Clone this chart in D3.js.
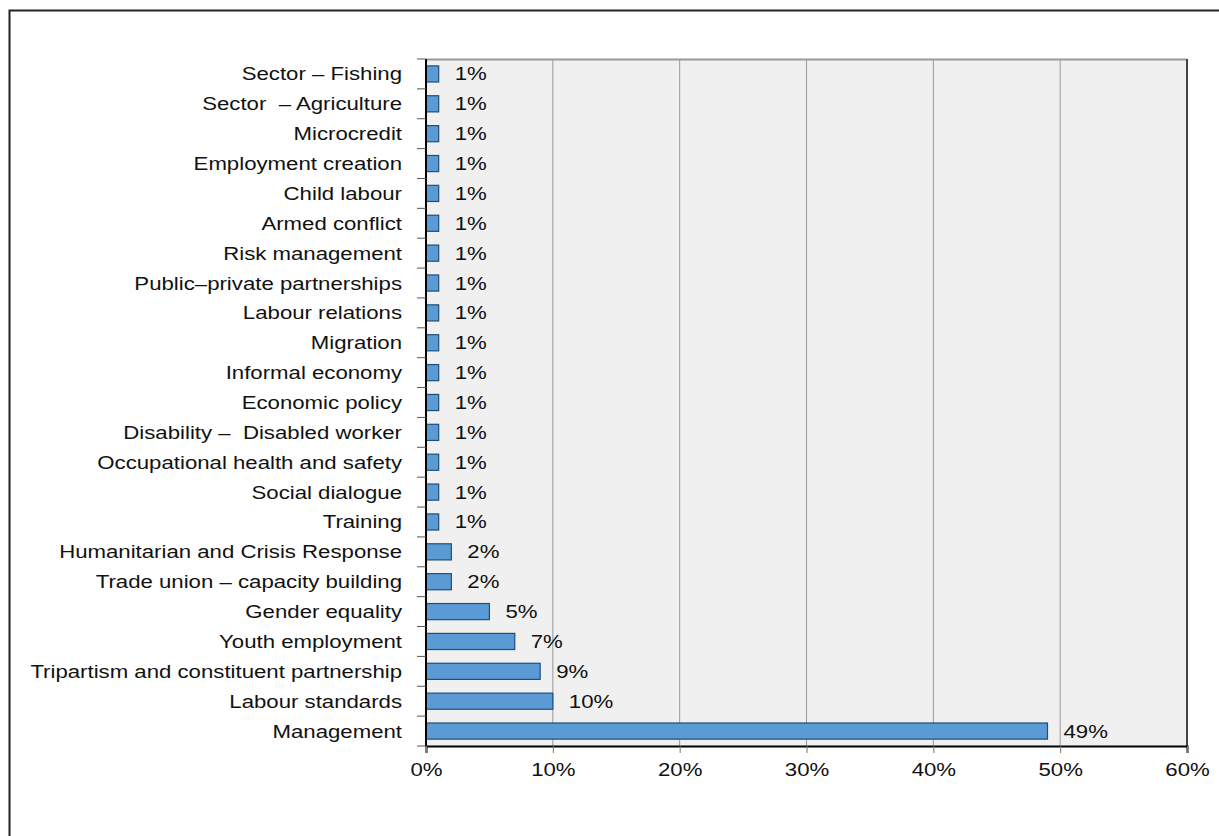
<!DOCTYPE html>
<html>
<head>
<meta charset="utf-8">
<script src="https://cdn.jsdelivr.net/npm/d3@7"></script>
<style>
  body { margin: 0; background: #fff; }
  svg { display: block; font-family: "Liberation Sans", Arial, sans-serif; }
  text { white-space: pre; }
</style>
</head>
<body>
<svg id="chart" width="1219" height="836"></svg>
<script>
// Categories top to bottom, as shown
const categories = [
    'Sector – Fishing', 'Sector  – Agriculture', 'Microcredit', 'Employment creation',
    'Child labour', 'Armed conflict', 'Risk management', 'Public–private partnerships',
    'Labour relations', 'Migration', 'Informal economy', 'Economic policy',
    'Disability –  Disabled worker', 'Occupational health and safety', 'Social dialogue',
    'Training', 'Humanitarian and Crisis Response', 'Trade union – capacity building',
    'Gender equality', 'Youth employment', 'Tripartism and constituent partnership',
    'Labour standards', 'Management'
];
const shares = [1, 1, 1, 1, 1, 1, 1, 1, 1, 1, 1, 1, 1, 1, 1, 1, 2, 2, 5, 7, 9, 10, 49];
const xTicks = [0, 10, 20, 30, 40, 50, 60];

const svg = d3.select('#chart');
const margin = { top: 59, right: 32, bottom: 90, left: 426 };
const width = 1219 - margin.left - margin.right;
const height = 836 - margin.top - margin.bottom;
const fontSize = '18.5px';
const stretch = 1.2;  // source text is horizontally wide

// Outer frame
svg.append('rect')
    .attr('x', 9.5).attr('y', 10.5)
    .attr('width', 1230).attr('height', 850)
    .attr('fill', 'none')
    .attr('stroke', '#222')
    .attr('stroke-width', 2);

const g = svg.append('g')
    .attr('transform', `translate(${margin.left},${margin.top})`);

const x = d3.scaleLinear().domain([0, 60]).range([0, width]);
const y = d3.scaleBand().domain(categories).range([0, height]).paddingInner(0.46).paddingOuter(0.23);

// Plot background
g.append('rect')
    .attr('width', width).attr('height', height)
    .attr('fill', '#f0f0f0');

// Gridlines
g.selectAll('.grid')
    .data(xTicks.slice(1, -1))
    .enter().append('line')
    .attr('x1', d => x(d)).attr('x2', d => x(d))
    .attr('y1', 0).attr('y2', height)
    .attr('stroke', '#999').attr('stroke-width', 1);

// Top and right border of plot
g.append('line').attr('x1', 0).attr('x2', width).attr('y1', 0.5).attr('y2', 0.5)
    .attr('stroke', '#999').attr('stroke-width', 2);
g.append('line').attr('x1', width).attr('x2', width).attr('y1', 0).attr('y2', height)
    .attr('stroke', '#444').attr('stroke-width', 2);

// Bars
g.selectAll('.bar')
    .data(categories)
    .enter().append('rect')
    .attr('class', 'bar')
    .attr('x', x(0))
    .attr('y', d => y(d))
    .attr('width', (d, i) => x(shares[i]) - x(0))
    .attr('height', y.bandwidth())
    .attr('fill', '#5b9bd5')
    .attr('stroke', '#1f4e79')
    .attr('stroke-width', 1.2);

// Value labels
g.selectAll('.val')
    .data(categories)
    .enter().append('text')
    .attr('transform', (d, i) =>
        `translate(${x(shares[i]) + 16},${y(d) + y.bandwidth() / 2}) scale(${stretch},1)`)
    .attr('dy', '0.35em')
    .style('font-size', fontSize)
    .style('fill', '#111')
    .text((d, i) => shares[i] + '%');

// Y axis with ticks between categories
const yAxis = g.append('g');
yAxis.append('line')
    .attr('x1', 0).attr('x2', 0).attr('y1', 0).attr('y2', height)
    .attr('stroke', '#000').attr('stroke-width', 2);
yAxis.selectAll('.ytick')
    .data(d3.range(categories.length + 1))
    .enter().append('line')
    .attr('x1', -9).attr('x2', 0)
    .attr('y1', i => i * height / categories.length)
    .attr('y2', i => i * height / categories.length)
    .attr('stroke', '#555');
yAxis.selectAll('.ylabel')
    .data(categories)
    .enter().append('text')
    .attr('transform', d => `translate(-24,${y(d) + y.bandwidth() / 2}) scale(${stretch},1)`)
    .attr('dy', '0.35em')
    .attr('text-anchor', 'end')
    .style('font-size', fontSize)
    .style('fill', '#111')
    .text(d => d);

// X axis
const xAxis = g.append('g')
    .attr('transform', `translate(0,${height})`)
    .call(d3.axisBottom(x).tickValues(xTicks).tickSize(7).tickPadding(10).tickFormat(d => d + '%'));
xAxis.select('.domain').attr('stroke', '#000').attr('stroke-width', 2);
xAxis.selectAll('.tick line').attr('stroke', '#777');
xAxis.selectAll('.tick text')
    .attr('transform', `scale(${stretch},1)`)
    .style('font-size', fontSize)
    .style('font-family', '"Liberation Sans", Arial, sans-serif')
    .style('fill', '#111');
</script>
</body>
</html>
